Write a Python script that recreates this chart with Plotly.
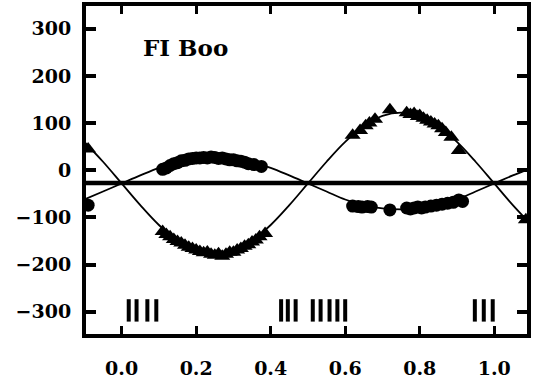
import plotly.graph_objects as go

# Fitted orbit curves
curve_phase = [-0.10, -0.05, 0.00, 0.05, 0.10, 0.15, 0.20, 0.25, 0.30, 0.35, 0.40, 0.45,
               0.50, 0.55, 0.60, 0.65, 0.70, 0.75, 0.80, 0.85, 0.90, 0.95, 1.00, 1.05, 1.10]
curve_primary = [60, 18, -28, -74, -116, -149, -171, -178, -171, -149, -116, -74,
                 -28, 18, 60, 93, 115, 122, 115, 93, 60, 18, -28, -74, -116]
curve_secondary = [-62, -45, -28, -11, 5, 17, 25, 27, 25, 17, 5, -11,
                   -28, -45, -62, -74, -81, -83, -81, -74, -62, -45, -28, -11, 5]

# Primary star radial velocities (triangles)
prim_phase = [-0.09, 0.11, 0.12, 0.13, 0.14, 0.15, 0.16, 0.17, 0.18, 0.19, 0.20, 0.21, 0.22,
              0.23, 0.24, 0.25, 0.26, 0.27, 0.28, 0.29, 0.30, 0.31, 0.32, 0.33, 0.34, 0.35,
              0.36, 0.37, 0.385,
              0.62, 0.64, 0.655, 0.665, 0.68, 0.72, 0.765, 0.775, 0.785, 0.795, 0.80, 0.81,
              0.82, 0.83, 0.84, 0.85, 0.86, 0.87, 0.885, 0.905, 1.085]
prim_rv = [45, -130, -136, -141, -147, -151, -154, -159, -163, -166, -169, -172, -175,
           -173, -178, -180, -177, -182, -178, -174, -174, -169, -166, -161, -158, -152,
           -148, -141, -134,
           74, 84, 94, 100, 108, 128, 122, 118, 120, 114, 116, 110,
           106, 102, 98, 94, 88, 80, 70, 42, -105]

# Secondary star radial velocities (circles)
sec_phase = [-0.09, 0.11, 0.12, 0.13, 0.14, 0.15, 0.16, 0.17, 0.18, 0.19, 0.20, 0.21, 0.22,
             0.23, 0.24, 0.25, 0.26, 0.27, 0.28, 0.29, 0.30, 0.31, 0.32, 0.33, 0.34, 0.355,
             0.375,
             0.62, 0.635, 0.645, 0.66, 0.67, 0.72, 0.765, 0.775, 0.785, 0.795, 0.805, 0.815,
             0.83, 0.845, 0.86, 0.875, 0.89, 0.905, 0.915]
sec_rv = [-74, 2, 5, 10, 14, 16, 20, 21, 24, 25, 26, 26, 27,
          26, 28, 27, 25, 26, 24, 22, 22, 20, 19, 17, 14, 12,
          8,
          -76, -77, -78, -77, -78, -84, -80, -82, -80, -78, -80, -78,
          -76, -74, -72, -70, -68, -63, -66]

# Systemic velocity
gamma = -27

# Phases of additional observations (tick marks near bottom)
mark_phase = [0.019, 0.040, 0.069, 0.093, 0.428, 0.446, 0.467, 0.513, 0.534, 0.558,
              0.579, 0.600, 0.948, 0.972, 0.996]
mark_level = -297

xticks = [0.0, 0.2, 0.4, 0.6, 0.8, 1.0]
xtick_labels = ["0.0", "0.2", "0.4", "0.6", "0.8", "1.0"]
yticks = [-300, -200, -100, 0, 100, 200, 300]
ytick_labels = ["\u2212300", "\u2212200", "\u2212100", "0", "100", "200", "300"]

fig = go.Figure()

fig.add_trace(go.Scatter(x=[-0.2, 1.2], y=[gamma, gamma], mode="lines",
                         line=dict(color="black", width=4.5), showlegend=False))
fig.add_trace(go.Scatter(x=curve_phase, y=curve_primary, mode="lines",
                         line=dict(color="black", width=1.8, shape="spline"), showlegend=False))
fig.add_trace(go.Scatter(x=curve_phase, y=curve_secondary, mode="lines",
                         line=dict(color="black", width=1.8, shape="spline"), showlegend=False))
fig.add_trace(go.Scatter(x=prim_phase, y=prim_rv, mode="markers",
                         marker=dict(symbol="triangle-up", size=14, color="black"),
                         showlegend=False))
fig.add_trace(go.Scatter(x=sec_phase, y=sec_rv, mode="markers",
                         marker=dict(symbol="circle", size=13, color="black"),
                         showlegend=False))
fig.add_trace(go.Scatter(x=mark_phase, y=[mark_level] * len(mark_phase), mode="markers",
                         marker=dict(symbol="line-ns", size=16,
                                     line=dict(color="black", width=4)),
                         showlegend=False))

fig.add_annotation(x=0.125, y=0.875, xref="paper", yref="paper", xanchor="left",
                   yanchor="middle", text="<b>FI Boo</b>", showarrow=False,
                   font=dict(family="DejaVu Serif", size=23, color="black"))

tickfont = dict(family="DejaVu Serif", size=19, color="black", weight="bold")
fig.update_xaxes(range=[-0.0957, 1.088], tickvals=xticks, ticktext=xtick_labels,
                 ticks="inside", ticklen=8, tickwidth=3, tickcolor="black",
                 showline=True, linewidth=4, linecolor="black", mirror="ticks",
                 showgrid=False, zeroline=False, tickfont=tickfont, ticklabelstandoff=14)
fig.update_yaxes(range=[-347, 348], tickvals=yticks, ticktext=ytick_labels,
                 ticks="inside", ticklen=10, tickwidth=3.5, tickcolor="black",
                 showline=True, linewidth=4, linecolor="black", mirror="ticks",
                 showgrid=False, zeroline=False, tickfont=tickfont, ticklabelstandoff=7)

fig.update_layout(width=533, height=381, margin=dict(l=86, r=2, t=5, b=46),
                  plot_bgcolor="white", paper_bgcolor="white")

fig.write_html("out.html")
